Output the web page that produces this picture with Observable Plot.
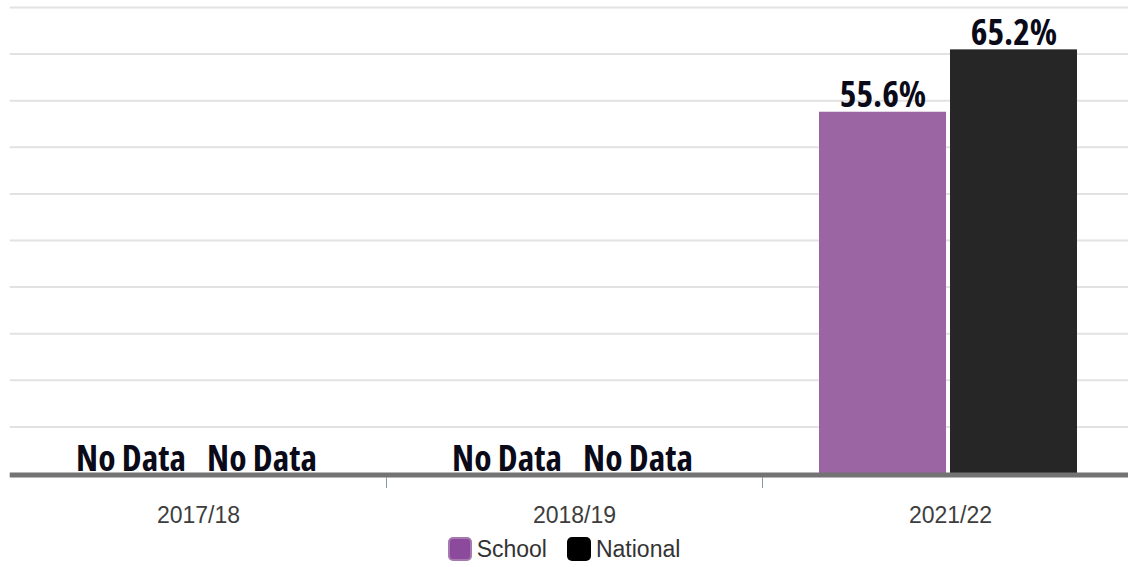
<!DOCTYPE html>
<html>
<head>
<meta charset="utf-8">
<script src="https://cdn.jsdelivr.net/npm/d3@7"></script>
<script src="https://cdn.jsdelivr.net/npm/@observablehq/plot@0.6"></script>
<style>
  html, body { margin: 0; padding: 0; background: #fff; overflow: hidden; }
  #chart svg { display: block; overflow: visible; }
  #chart svg g[aria-label="text"] text { font-stretch: 75%; }
  .legend { display: flex; justify-content: center; align-items: center; margin-top: 6px;
    font-family: "Liberation Sans", Arial, sans-serif; font-size: 23px; color: #333; line-height: 26px; }
  .legend .item { display: flex; align-items: center; margin: 0 10px; }
  .legend .sw { width: 24px; height: 24px; border-radius: 5px; margin-right: 5px; box-sizing: border-box; }
</style>
</head>
<body>
<div id="chart"></div>
<div class="legend" id="legend"></div>
<script>
const years = ["2017/18", "2018/19", "2021/22"];
const series = ["School", "National"];
const schoolValues = [null, null, 55.6];
const nationalValues = [null, null, 65.2];
const seriesColors = ["#9b65a3", "#262626"];
const legendColors = ["#8b4a9b", "#000000"];

const data = [];
years.forEach((y, i) => {
  data.push({year: y, series: "School", value: schoolValues[i]});
  data.push({year: y, series: "National", value: nationalValues[i]});
});

const W = 1128, H = 530;
const xRange = [9.7, 1137.7];
const step = (xRange[1] - xRange[0]) / years.length;
const barW = 127, gap = 4, groupShift = -2;
const half = step / 2;
const insets = {
  School: {l: half + groupShift - gap / 2 - barW, r: half - groupShift + gap / 2},
  National: {l: half + groupShift + gap / 2, r: half - groupShift - gap / 2 - barW}
};
const centerDx = {
  School: insets.School.l + barW / 2 - half,
  National: insets.National.l + barW / 2 - half
};

const maxV = d3.max(data, d => d.value);
const yMax = maxV * 1.1;
const yTicks = d3.range(0, 11).map(i => i * yMax / 10);

const labelFont = {fontFamily: "'Open Sans', sans-serif", fontWeight: 700, fontSize: 35.5, fill: "#0a0a19"};

const marks = [
  Plot.ruleY(yTicks.slice(1), {stroke: "#e2e2e2", strokeWidth: 2}),
];
series.forEach((s, si) => {
  const rows = data.filter(d => d.series === s);
  marks.push(Plot.barY(rows.filter(d => d.value != null), {
    x: "year", y: "value", fill: seriesColors[si],
    insetLeft: insets[s].l, insetRight: insets[s].r
  }));
  marks.push(Plot.text(rows.filter(d => d.value != null), {
    x: "year", y: "value", text: d => d.value.toFixed(1) + "%",
    dx: centerDx[s], dy: -5, lineAnchor: "bottom", ...labelFont
  }));
  marks.push(Plot.text(rows.filter(d => d.value == null), {
    x: "year", y: () => 0, text: () => "No Data",
    dx: centerDx[s], dy: -3, lineAnchor: "bottom", ...labelFont
  }));
});
marks.push(Plot.ruleY([0], {stroke: "#737373", strokeWidth: 5, dy: 1.5}));
marks.push(Plot.axisX({tickSize: 0, tickPadding: 33, fontSize: 23, fill: "#3d3d3d",
  fontFamily: "'Liberation Sans', Arial, sans-serif", label: null}));
marks.push(Plot.axisX(years.slice(1), {tickSize: 11, tickFormat: () => "", dx: -half, dy: 4,
  stroke: "#8b9aa8", label: null}));

const chart = Plot.plot({
  width: W, height: H,
  marginLeft: xRange[0], marginRight: 0, marginTop: 7, marginBottom: 57,
  style: {background: "#fff", overflow: "visible", fontSize: "23px"},
  x: {domain: years, range: xRange, padding: 0, axis: null},
  y: {domain: [0, yMax], axis: null},
  marks
});
document.getElementById("chart").appendChild(chart);

const legend = document.getElementById("legend");
series.forEach((s, i) => {
  const item = document.createElement("div");
  item.className = "item";
  const sw = document.createElement("span");
  sw.className = "sw";
  sw.style.background = legendColors[i];
  if (i === 0) sw.style.border = "2px solid #a679b0";
  const t = document.createElement("span");
  t.textContent = s;
  item.appendChild(sw); item.appendChild(t);
  legend.appendChild(item);
});
</script>
</body>
</html>
